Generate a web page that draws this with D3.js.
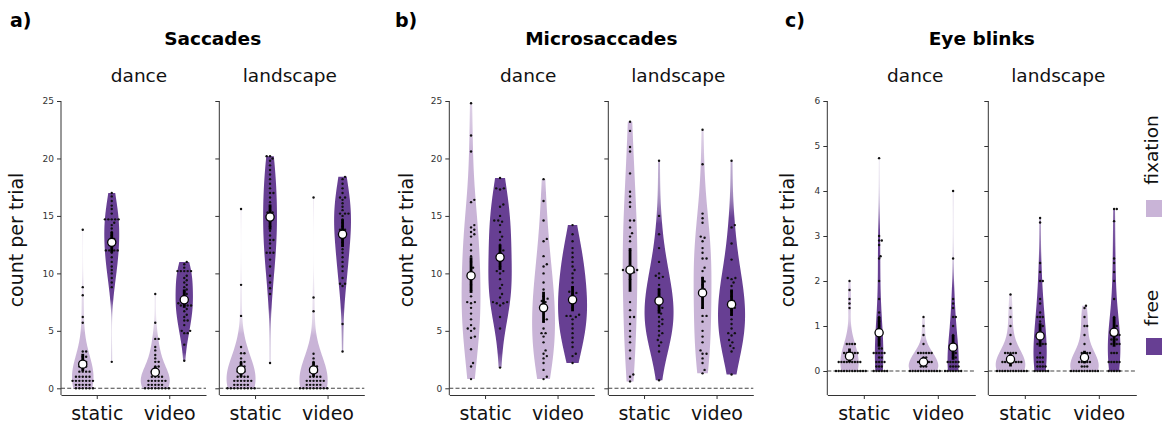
<!DOCTYPE html>
<html><head><meta charset="utf-8">
<script src="https://cdn.jsdelivr.net/npm/d3@7"></script>
<style>body{margin:0;background:#fff;} svg{display:block;font-family:"DejaVu Sans",sans-serif;}</style>
</head><body><svg id="c" width="1162" height="429"></svg>
<script>
// ---------- categories / labels ----------
const panelTitles = ["Saccades", "Microsaccades", "Eye blinks"];
const panelLetters = ["a)", "b)", "c)"];
const stimuli = ["dance", "landscape"];
const conditions = ["static", "video"];
const groups = ["fixation", "free"];
const yLabel = "count per trial";
const ticksSac = [0, 5, 10, 15, 20, 25];
const ticksMic = [0, 5, 10, 15, 20, 25];
const ticksBlk = [0, 1, 2, 3, 4, 5, 6];

// ---------- Saccades (per participant counts) ----------
const sacDSFix = [0,0,0,0,0,0,0.3,0.3,0.3,0.3,0.3,0.65,0.65,0.65,0.65,0.65,0.65,0.65,1.0,1.0,1.0,1.0,1.0,1.45,1.45,1.45,1.45,1.9,1.9,1.9,2.3,2.3,2.75,2.75,3.2,3.2,5.7,6.2,8.1,8.8,13.8];
const sacDSFree = [2.3,8.8,9.2,9.6,10.0,10.3,10.6,11.0,11.4,11.8,12.0,12.0,12.0,12.0,12.4,12.8,13.0,13.3,13.6,13.9,14.2,14.4,14.7,14.7,14.7,14.7,14.7,15.2,15.6,15.9,16.3,16.7,17.0];
const sacDVFix = [0,0,0,0,0,0,0,0,0.3,0.3,0.3,0.3,0.3,0.65,0.65,0.65,0.65,0.65,0.65,1.0,1.0,1.0,1.0,1.45,1.45,1.45,1.9,1.9,2.3,2.3,2.6,2.9,3.3,3.6,4.3,4.3,5.7,8.2];
const sacDVFree = [2.4,3.8,4.8,4.8,5.0,5.0,5.5,5.9,5.9,6.2,6.4,6.7,6.9,7.2,7.2,7.2,7.2,7.4,7.6,7.8,8.0,8.2,8.4,8.6,8.8,9.0,9.2,9.4,9.6,9.8,10.2,10.2,10.2,10.2,10.2,10.5,10.8,11.0];
const sacLSFix = [0,0,0,0,0,0,0,0,0,0.3,0.3,0.3,0.3,0.3,0.65,0.65,0.65,0.65,0.65,0.65,1.0,1.0,1.0,1.0,1.45,1.45,1.45,1.9,1.9,2.3,2.3,2.6,3.05,3.05,3.6,6.3,9.0,15.6];
const sacLSFree = [2.2,8.2,8.7,9.2,9.8,10.6,11.2,11.8,11.8,11.8,12.2,12.6,12.9,12.9,13.3,13.7,14.1,14.5,14.8,15.1,15.3,15.3,15.5,15.8,16.2,16.6,17.0,17.0,17.4,17.8,18.2,18.6,19.0,19.4,19.8,20.0,20.2,20.2];
const sacLVFix = [0,0,0,0,0,0,0,0,0,0.3,0.3,0.3,0.3,0.3,0.65,0.65,0.65,0.65,0.65,0.65,1.0,1.0,1.0,1.0,1.45,1.45,1.45,1.9,1.9,2.3,2.6,3.0,6.7,7.9,16.6];
const sacLVFree = [3.2,5.6,8.9,9.1,9.1,9.6,10.2,10.6,11.0,11.4,11.8,12.1,12.4,12.7,13.0,13.3,13.6,13.8,13.8,14.1,14.4,14.7,15.0,15.2,15.2,15.2,15.5,15.8,16.1,16.4,16.6,16.6,17.0,17.4,17.8,18.2,18.4];
const sacMean = [2.1, 12.7, 1.4, 7.7, 1.6, 14.9, 1.6, 13.4];
const sacLo   = [1.5, 11.8, 1.0, 7.0, 1.0, 13.8, 1.0, 12.3];
const sacHi   = [3.0, 13.6, 1.9, 8.6, 2.3, 16.0, 2.3, 14.7];

// ---------- Microsaccades ----------
const micDSFix = [0.8,1.9,2.2,3.4,4.4,4.5,5.0,5.2,5.2,5.5,6.0,6.5,7.0,7.4,7.5,7.5,8.0,8.5,9.0,9.5,10.2,10.5,11.0,11.5,12.0,12.5,13.2,13.4,13.6,13.8,14.0,14.2,16.2,16.4,20.6,22.0,24.8];
const micDSFree = [1.8,5.2,6.2,7.2,7.4,7.4,7.5,7.5,7.9,8.2,8.7,9.0,9.5,10.0,10.2,10.2,10.6,11.2,11.8,12.0,12.5,12.9,13.2,13.6,14.2,14.5,14.6,14.6,15.0,15.8,16.0,17.3,17.4,17.4,18.3];
const micDVFix = [0.8,1.0,1.6,2.2,2.6,2.8,3.0,3.3,4.0,4.5,4.8,4.8,5.2,5.8,6.0,6.8,7.2,7.5,7.6,7.8,8.0,8.6,9.2,10.0,10.6,10.8,11.5,12.8,13.0,14.6,16.3,18.2];
const micDVFree = [2.2,2.8,3.0,3.6,4.0,4.4,4.8,5.2,5.6,6.0,6.2,6.3,6.3,6.4,7.0,7.4,7.8,8.2,8.3,8.4,8.8,9.2,9.6,10.0,10.3,10.6,11.0,11.4,11.8,12.2,12.8,13.4,14.2];
const micLSFix = [0.6,1.0,1.2,2.6,3.3,4.0,4.5,5.0,5.6,6.2,6.2,6.8,7.5,9.5,10.0,10.1,10.2,10.3,10.3,10.5,12.0,12.8,13.2,13.5,14.0,14.6,14.6,15.8,16.2,16.7,17.1,18.7,20.6,21.0,22.4,23.2];
const micLSFree = [0.7,3.2,3.7,4.0,4.2,4.6,4.8,5.0,5.4,5.6,5.8,6.0,6.2,6.5,6.8,7.0,7.2,7.5,7.8,8.2,8.6,9.0,9.6,9.7,9.8,10.0,11.0,12.2,13.4,15.0,19.8];
const micLVFix = [1.3,1.6,2.2,2.6,3.0,3.0,3.3,4.0,4.5,5.0,5.8,6.3,6.3,7.0,8.3,8.6,9.0,9.3,9.6,10.2,10.5,11.3,11.3,11.8,12.2,12.8,13.1,13.2,14.4,14.8,15.2,19.5,22.5];
const micLVFree = [1.2,3.2,3.5,3.7,4.0,4.2,4.6,4.8,4.8,5.2,5.6,6.0,6.4,6.8,7.0,7.3,7.6,8.0,8.4,8.9,9.2,9.5,9.6,9.6,11.2,12.6,14.0,14.2,19.8];
const micMean = [9.8, 11.4, 7.0, 7.7, 10.3, 7.6, 8.3, 7.3];
const micLo   = [8.3, 10.3, 5.7, 6.7, 8.4, 6.5, 6.9, 6.3];
const micHi   = [11.4, 12.5, 8.4, 8.9, 12.2, 8.7, 9.7, 8.6];

// ---------- Eye blinks ----------
const blkDSFix = [0,0,0,0,0,0,0,0,0,0,0,0,0.2,0.2,0.2,0.2,0.2,0.2,0.2,0.2,0.2,0.4,0.4,0.4,0.4,0.4,0.4,0.6,0.6,0.6,0.6,1.4,1.5,1.6,1.8,2.0];
const blkDSFree = [0,0,0,0,0,0,0.1,0.1,0.1,0.2,0.2,0.2,0.2,0.3,0.3,0.4,0.4,0.4,0.4,0.4,0.5,0.5,0.6,0.7,0.8,0.9,1.0,1.1,1.2,1.3,1.6,2.0,2.5,2.55,2.8,2.9,2.9,3.0,4.73];
const blkDVFix = [0,0,0,0,0,0,0,0,0,0,0,0,0.1,0.1,0.1,0.2,0.2,0.2,0.2,0.2,0.2,0.3,0.3,0.4,0.4,0.4,0.4,0.4,0.4,0.6,0.8,1.0,1.2];
const blkDVFree = [0,0,0,0,0,0,0,0.1,0.1,0.1,0.1,0.2,0.2,0.2,0.2,0.2,0.3,0.3,0.4,0.4,0.5,0.6,0.8,1.0,1.2,1.2,1.4,1.5,1.6,2.5,4.0];
const blkLSFix = [0,0,0,0,0,0,0,0,0,0,0,0,0.2,0.2,0.2,0.2,0.2,0.2,0.2,0.2,0.4,0.4,0.4,0.4,0.4,0.6,0.8,1.0,1.2,1.4,1.7];
const blkLSFree = [0,0,0,0,0,0,0.1,0.1,0.1,0.1,0.2,0.2,0.2,0.3,0.3,0.3,0.4,0.6,0.6,0.6,0.6,0.8,0.8,0.8,1.0,1.0,1.1,1.2,1.2,1.2,1.3,1.5,1.6,2.0,2.0,2.2,2.4,3.3,3.4];
const blkLVFix = [0,0,0,0,0,0,0,0,0,0,0,0.1,0.1,0.1,0.2,0.2,0.2,0.2,0.2,0.4,0.4,0.4,0.4,0.6,0.8,1.0,1.0,1.2,1.4,1.45];
const blkLVFree = [0,0,0,0,0,0.2,0.2,0.2,0.2,0.2,0.4,0.4,0.4,0.6,0.6,0.6,0.6,0.7,0.7,0.7,0.8,0.8,0.8,0.8,1.0,1.0,1.2,1.6,2.0,2.2,2.4,2.5,3.33,3.6,3.6];
const blkMean = [0.33, 0.85, 0.2, 0.53, 0.26, 0.78, 0.3, 0.86];
const blkLo   = [0.2, 0.54, 0.12, 0.25, 0.1, 0.54, 0.17, 0.54];
const blkHi   = [0.5, 1.2, 0.3, 0.8, 0.39, 1.06, 0.45, 1.2];

// ---------- assemble (order: stimulus > condition > group) ----------
const panelPoints = [
  [sacDSFix, sacDSFree, sacDVFix, sacDVFree, sacLSFix, sacLSFree, sacLVFix, sacLVFree],
  [micDSFix, micDSFree, micDVFix, micDVFree, micLSFix, micLSFree, micLVFix, micLVFree],
  [blkDSFix, blkDSFree, blkDVFix, blkDVFree, blkLSFix, blkLSFree, blkLVFix, blkLVFree]
];
const panelMean = [sacMean, micMean, blkMean];
const panelLo = [sacLo, micLo, blkLo];
const panelHi = [sacHi, micHi, blkHi];
const panelTicks = [ticksSac, ticksMic, ticksBlk];
const panelDomain = [[0, 25], [0, 25], [0, 6]];

// ---------- layout / style ----------
const COL = { fixation: "#c9b4d7", free: "#673f93" };
const LAY = {
  left: [61, 449.3, 827.3], subW: [145, 145, 148], subGap: [158.3, 159, 161],
  top: 101, bottom: 395, zero: [388.3, 388.3, 371],
  subTitleDx: [[78, 70.5], [79, 70], [88, 70]],
  letterX: [10, 395, 785], ylabX: [22.7, 412.7, 794.4],
  swarmDist: [3.4, 4.0, 2.7], bwScale: 1.25
};

const svg = d3.select("#c");
const defs = svg.append("defs");

function kde(values) {
  const n = values.length;
  const m = d3.mean(values);
  const sd = Math.sqrt(d3.sum(values, v => (v - m) * (v - m)) / (n - 1));
  const bw = LAY.bwScale * Math.pow(n, -0.2) * sd;
  const lo = d3.min(values), hi = d3.max(values);
  const N = 120;
  const grid = d3.range(N).map(i => lo + (hi - lo) * i / (N - 1));
  const c = 1 / (n * bw * Math.sqrt(2 * Math.PI));
  return grid.map(x => ({ v: x, d: c * d3.sum(values, xi => Math.exp(-0.5 * ((x - xi) / bw) ** 2)) }));
}

function swarm(vals, yS, dist) {
  const pts = vals.map(v => ({ v, y: yS(v), x: 0 })).sort((a, b) => a.v - b.v);
  const placed = [];
  pts.forEach(p => {
    const nb = placed.filter(q => Math.abs(q.y - p.y) < dist);
    const cands = [0];
    nb.forEach(q => { const dx = Math.sqrt(dist * dist - (q.y - p.y) ** 2); cands.push(q.x + dx, q.x - dx); });
    cands.sort((a, b) => Math.abs(a) - Math.abs(b));
    for (const c of cands) {
      if (nb.every(q => (q.x - c) ** 2 + (q.y - p.y) ** 2 >= dist * dist - 1e-6)) { p.x = c; break; }
    }
    placed.push(p);
  });
  return pts;
}

let gid = 0;
panelTitles.forEach((title, pi) => {
  const y = d3.scaleLinear().domain(panelDomain[pi]).range([LAY.zero[pi], LAY.top]);
  const ticks = panelTicks[pi];
  const L0 = LAY.left[pi];
  const xRight = L0 + LAY.subGap[pi] + LAY.subW[pi];

  svg.append("text").attr("x", LAY.letterX[pi]).attr("y", 27).attr("font-size", 19).attr("font-weight", "bold").text(panelLetters[pi]);
  svg.append("text").attr("x", (L0 + xRight) / 2).attr("y", 45).attr("text-anchor", "middle")
    .attr("font-size", 18.5).attr("font-weight", "bold").text(title);
  svg.append("text").attr("transform", `translate(${LAY.ylabX[pi]},240) rotate(-90)`).attr("text-anchor", "middle")
    .attr("font-size", 19).attr("fill", "#111").text(yLabel);

  stimuli.forEach((stim, si) => {
    const x0 = L0 + si * LAY.subGap[pi], x1 = x0 + LAY.subW[pi];
    const xb = d3.scaleBand().domain(conditions).range([x0, x1]);
    const bwid = xb.bandwidth();
    const hue = d3.scaleBand().domain(groups).range([-0.4 * bwid, 0.4 * bwid]);
    const halfMax = hue.bandwidth() / 2;
    const g = svg.append("g");

    svg.append("text").attr("x", x0 + LAY.subTitleDx[pi][si]).attr("y", 82).attr("text-anchor", "middle")
      .attr("font-size", 18.5).attr("fill", "#111").text(stim);

    const yAx = d3.axisLeft(y).tickValues(ticks).tickSize(4).tickPadding(3).tickSizeOuter(0)
      .tickFormat(si === 0 ? d3.format("d") : () => "");
    const ya = g.append("g").attr("transform", `translate(${x0},0)`).call(yAx);
    ya.select(".domain").remove();
    ya.selectAll("line").attr("stroke", "#333");
    ya.selectAll("text").attr("font-size", 9).attr("fill", "#333").attr("font-family", "DejaVu Sans");
    g.append("line").attr("x1", x0).attr("x2", x0).attr("y1", LAY.top).attr("y2", LAY.bottom).attr("stroke", "#333").attr("stroke-width", 1);

    const xAx = d3.axisBottom(xb).tickSize(4).tickPadding(8).tickSizeOuter(0);
    const xa = g.append("g").attr("transform", `translate(0,${LAY.bottom})`).call(xAx);
    xa.select(".domain").attr("stroke", "#333");
    xa.selectAll("line").attr("stroke", "#333");
    xa.selectAll("text").attr("font-size", 19).attr("fill", "#111").attr("font-family", "DejaVu Sans");

    g.append("line").attr("x1", x0).attr("x2", x1).attr("y1", y(0)).attr("y2", y(0))
      .attr("stroke", "#444").attr("stroke-width", 1.1).attr("stroke-dasharray", "4,2.2");

    const items = [];
    conditions.forEach((cond, ci) => groups.forEach((grp, gi) => {
      const idx = si * 4 + ci * 2 + gi;
      const vals = panelPoints[pi][idx];
      items.push({ cond, grp, idx, vals, dens: kde(vals), cx: xb(cond) + bwid / 2 + hue(grp) + hue.bandwidth() / 2 });
    }));
    const gmax = d3.max(items, it => d3.max(it.dens, p => p.d));

    items.forEach(it => {
      const id = "gr" + (gid++);
      const vmax = d3.max(it.dens, p => p.d);
      const lg = defs.append("linearGradient").attr("id", id).attr("gradientUnits", "userSpaceOnUse")
        .attr("x1", 0).attr("x2", 0).attr("y1", y(it.dens[0].v)).attr("y2", y(it.dens[it.dens.length - 1].v));
      it.dens.forEach((p, i) => lg.append("stop").attr("offset", i / (it.dens.length - 1))
        .attr("stop-color", COL[it.grp]).attr("stop-opacity", Math.min(1, 0.15 + 4 * p.d / vmax)));
      const area = d3.area().y(p => y(p.v)).x0(p => it.cx - halfMax * p.d / gmax).x1(p => it.cx + halfMax * p.d / gmax);
      g.append("path").attr("d", area(it.dens)).attr("fill", `url(#${id})`);
    });

    items.forEach(it => {
      const pts = swarm(it.vals, y, LAY.swarmDist[pi]);
      g.append("g").selectAll("circle").data(pts).join("circle")
        .attr("cx", p => it.cx + p.x).attr("cy", p => p.y).attr("r", 1.2).attr("fill", "#111");
    });

    items.forEach(it => {
      const m = panelMean[pi][it.idx], lo = panelLo[pi][it.idx], hi = panelHi[pi][it.idx];
      g.append("line").attr("x1", it.cx).attr("x2", it.cx).attr("y1", y(lo)).attr("y2", y(hi))
        .attr("stroke", "#000").attr("stroke-width", 2.8);
      g.append("circle").attr("cx", it.cx).attr("cy", y(m)).attr("r", 4.1)
        .attr("fill", "#fff").attr("stroke", "#000").attr("stroke-width", 1.3);
    });
  });
});

// legend
const legend = [{ g: "fixation", ty: 150, sy: 200 }, { g: "free", ty: 308, sy: 338 }];
legend.forEach(l => {
  svg.append("text").attr("transform", `translate(1158,${l.ty}) rotate(-90)`).attr("text-anchor", "middle")
    .attr("font-size", 18.5).attr("fill", "#111").text(l.g);
  svg.append("rect").attr("x", 1146).attr("y", l.sy).attr("width", 18).attr("height", 17).attr("fill", COL[l.g]);
});
</script></body></html>
